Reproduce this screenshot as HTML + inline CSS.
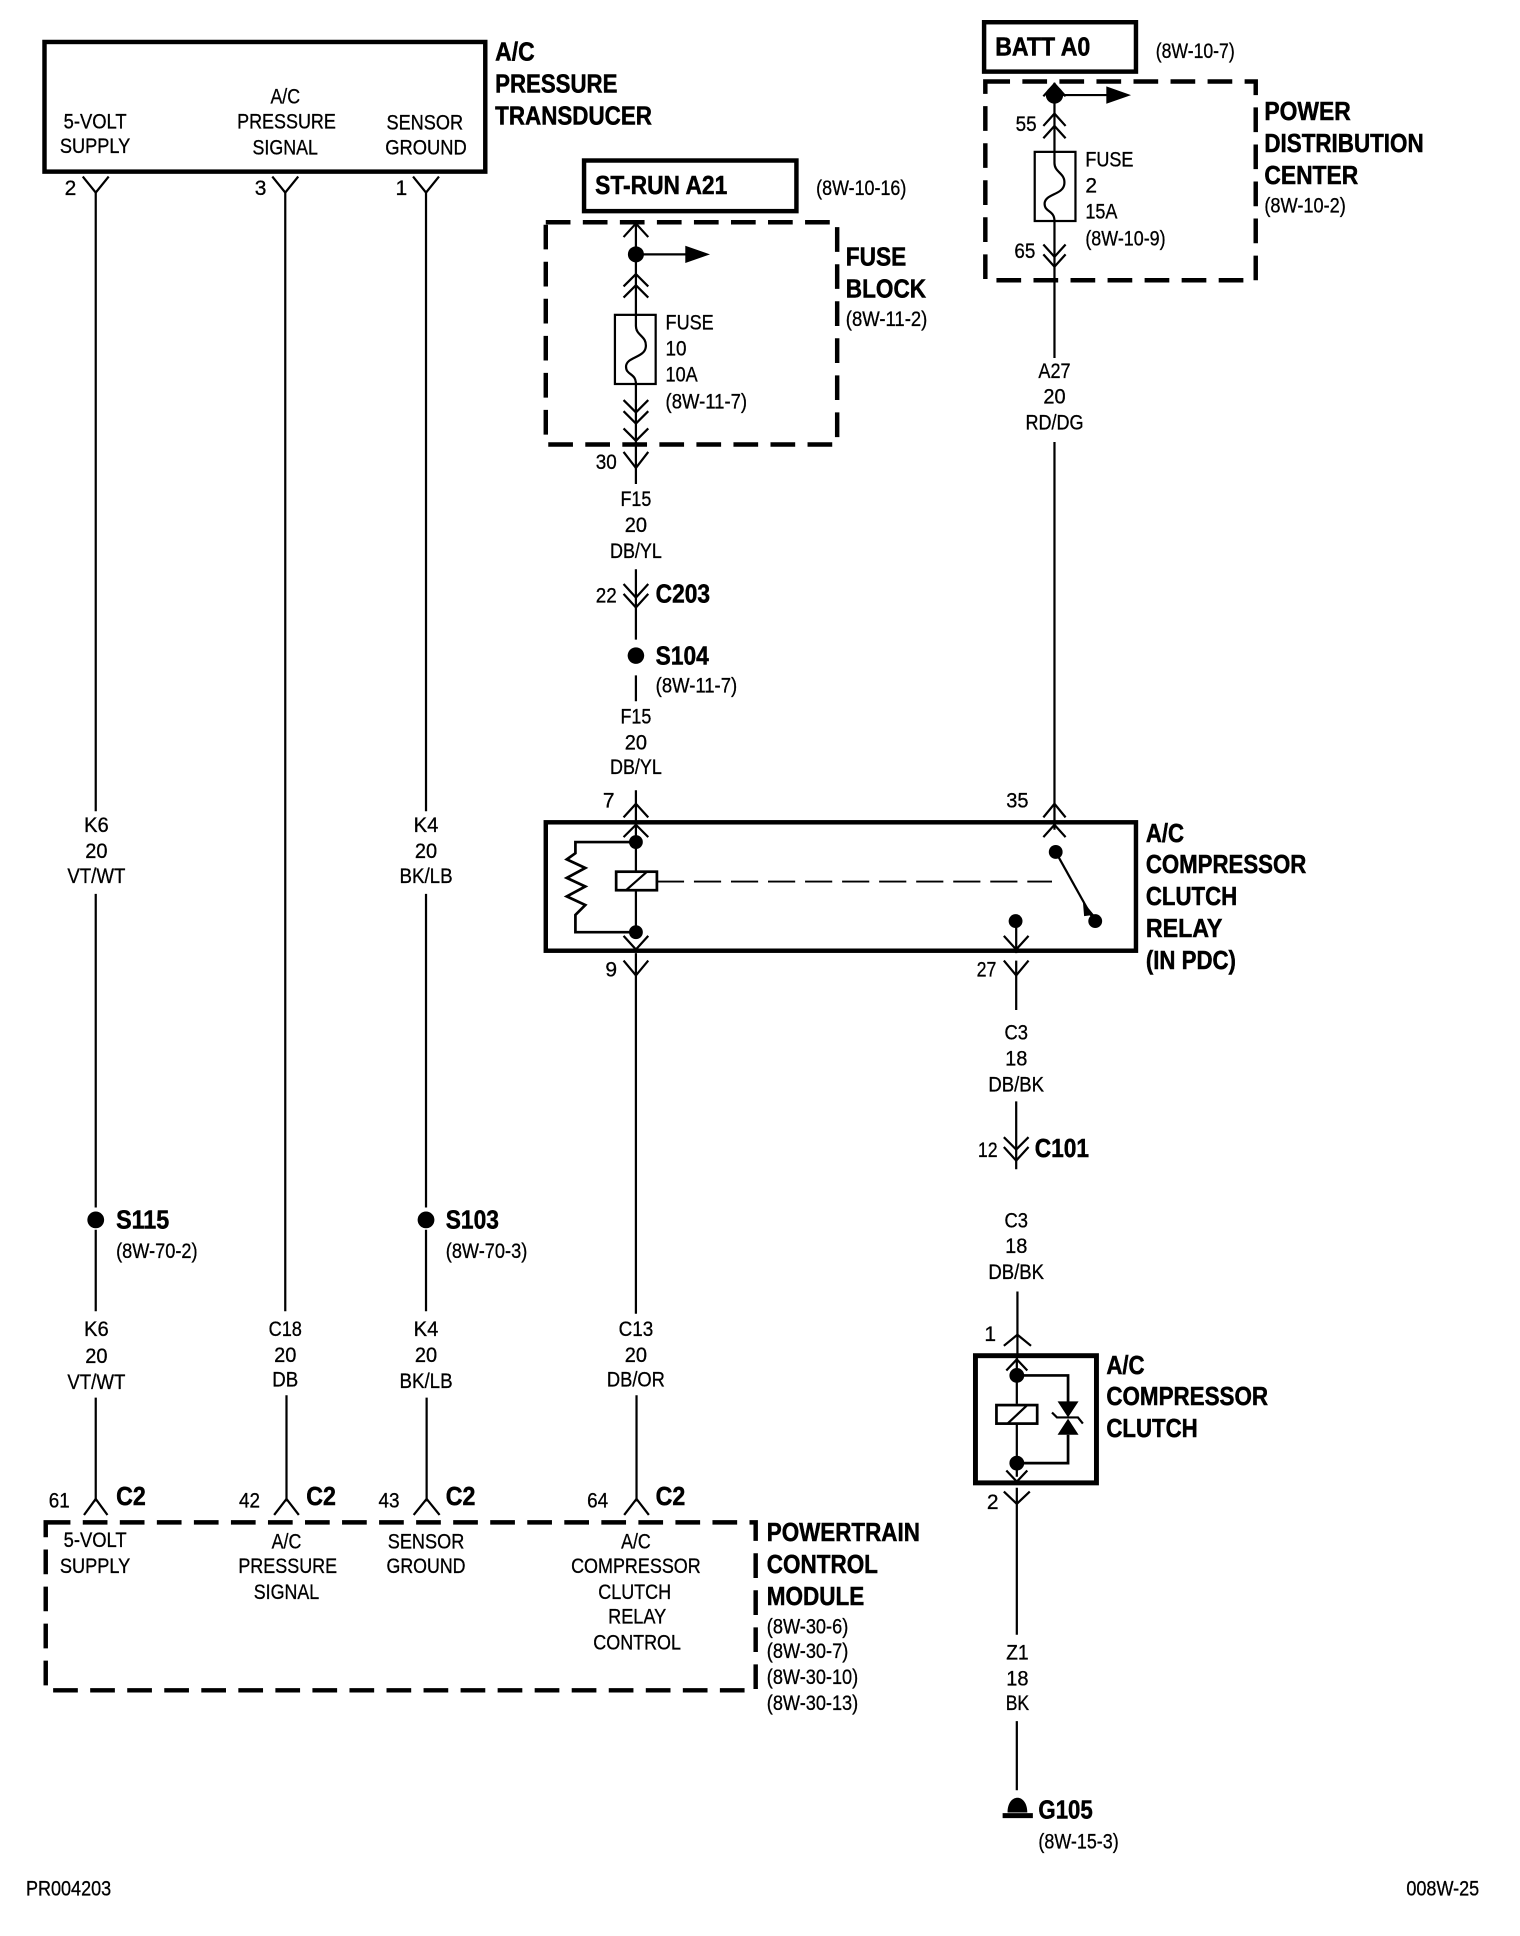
<!DOCTYPE html>
<html><head><meta charset="utf-8"><title>A/C Compressor Clutch Wiring</title>
<style>
html,body{margin:0;padding:0;background:#fff;width:1520px;height:1936px;overflow:hidden}
svg{display:block}
text{font-family:"Liberation Sans",sans-serif;fill:#000;stroke:#000;stroke-width:.25}
.r{font-size:17px}
.b{font-size:21px;font-weight:bold;stroke-width:.4}
.m{text-anchor:middle}
.w{fill:none;stroke:#000;stroke-width:1.8}
.t{fill:none;stroke:#000;stroke-width:3.6}
.d{fill:none;stroke:#000;stroke-width:3.6;stroke-dasharray:20 10}
.k{fill:#000;stroke:none}
</style></head><body>
<svg xmlns="http://www.w3.org/2000/svg" width="1520" height="1936" viewBox="0 0 1231 1568">
<!-- boxes -->
<rect class="t" x="36" y="34" width="357" height="105"/>
<rect class="t" x="473" y="130" width="172" height="41"/>
<rect class="t" x="797" y="18" width="123" height="40"/>
<rect class="d" x="442" y="180" width="236" height="180"/>
<rect class="d" x="798" y="66" width="219" height="161"/>
<rect class="t" x="442" y="666" width="478" height="104"/>
<rect class="t" x="790" y="1098" width="98" height="103" style="stroke-width:4"/>
<rect class="d" x="37" y="1233" width="575" height="136"/>

<!-- wires -->
<path class="w" d="M77.500 155V657M77.500 724V978M77.500 996V1062M77.500 1132V1216
M231 155V1062M232 1130V1216
M345 155V657M345 724V978M345 996V1062M345.500 1132V1216
M515 180V262M515 304V392M515 461V518M515 547V568M515 640V760
M515 772V1064M515.500 1130V1216
M854 67V123M854 179V290M854 358V672
M823 742V772M823 778V818M823 892V947M824 1046V1100M823.500 1100V1137M823.500 1153V1196M823.500 1205V1324M823.500 1394V1450
"/>
<!-- connector Ys (down) -->
<path class="w" d="M67 143L77.500 156L88 143M220.500 143L231 156L241.500 143M334.500 143L345 156L355.500 143
M505 366L515 379L525 366M505 778L515 790L525 778M813 778L823 790L833 778M813 1208L823.500 1218L834 1208"/>
<!-- connector inverted Ys -->
<path class="w" d="M68 1227L77.500 1214L87 1227M222 1227L232 1214L242 1227M335 1227L345.500 1214L356 1227M505.500 1227L515.500 1214L525.500 1227
M505 662L515 651L525 662M845 662L854 651L863 662M813 1090L824 1081L835 1090"/>
<!-- chevrons inside components -->
<path class="w" d="M505 192L515 181L525 192M505 232L515 222L525 232M505 241L515 231L525 241
M505 324L515 334L525 324M505 333L515 343L525 333M505 347L515 357L525 347
M505 473L515 484L525 473M505 481L515 492L525 481
M505 678L515 668L525 678M845 678L854 668L863 678M505 758L515 769L525 758M813 758L823 769L833 758
M845 78L854 68L863 78M845 102L854 92L863 102M845 112L854 102L863 112M845 198L854 208L863 198M845 206L854 216L863 206
M813 921L823 931L833 921M813 929L823 940L833 929
M815 1110L823.500 1101L832 1110M815 1191L823.500 1200L832 1191"/>
<!-- branch arrows and dots -->
<path class="w" d="M515 206H556M854 77H897"/>
<path class="k" d="M555 199L575 206L555 213ZM896 70L916 77L896 84Z"/>
<circle class="k" cx="515" cy="206" r="6.500"/>
<circle class="k" cx="854" cy="77" r="7"/>
<circle class="k" cx="77.500" cy="988" r="6.800"/>
<circle class="k" cx="345" cy="988" r="6.800"/>
<circle class="k" cx="515" cy="531" r="6.700"/>
<!-- fuses -->
<rect x="498" y="255" width="33" height="56" fill="#fff" stroke="#000" stroke-width="1.800"/>
<rect x="838" y="123" width="33" height="56" fill="#fff" stroke="#000" stroke-width="1.800"/>
<path class="w" d="M515 255V264C515 272 524 272 523 281C522 290 507 289 507 297C507 304 515 302 515 311"/>
<path class="w" d="M854 123V132C854 140 863 140 862 149C861 158 846 157 846 165C846 172 854 170 854 179"/>
<!-- relay internals -->
<circle class="k" cx="515" cy="682" r="5.600"/>
<circle class="k" cx="515" cy="755" r="5.600"/>
<path class="w" style="stroke-width:2.200" d="M515 682H466V691L459 696L474 703L459 711L474 718L459 726L474 733L466 741V755H515"/>
<rect x="499" y="706" width="33" height="15" fill="#fff" stroke="#000" stroke-width="2.200"/>
<path class="w" d="M507 721L524 706"/>
<path class="w" style="stroke-width:1.500" d="M532 714H852" stroke-dasharray="22 8"/>
<circle class="k" cx="855" cy="690" r="5.600"/>
<circle class="k" cx="887" cy="746" r="5.600"/>
<circle class="k" cx="822.500" cy="746" r="5.600"/>
<path class="w" d="M855 690L884 742"/>
<path class="k" d="M877 730L886 741L878 742Z"/>
<!-- clutch internals -->
<circle class="k" cx="823.500" cy="1114" r="6"/>
<circle class="k" cx="823.500" cy="1185" r="6"/>
<path class="w" style="stroke-width:2.200" d="M823.500 1114H865V1136M865 1162V1185H823.500"/>
<rect x="807" y="1138" width="33" height="15" fill="#fff" stroke="#000" stroke-width="2.200"/>
<path class="w" d="M816 1153L832 1138"/>
<path class="k" d="M856.500 1135H873.500L865 1148ZM856.500 1162H873.500L865 1149Z"/>
<path class="w" d="M852 1144L856 1148H873L877 1153"/>
<!-- ground -->
<path class="k" d="M816 1468C816 1452 832 1452 832 1468ZM812 1468.500H836.500V1472.500H812Z"/>

<!-- transducer text -->
<text class="b" x="401" y="49" textLength="32" lengthAdjust="spacingAndGlyphs">A/C</text>
<text class="b" x="401" y="75" textLength="99" lengthAdjust="spacingAndGlyphs">PRESSURE</text>
<text class="b" x="401" y="101" textLength="127" lengthAdjust="spacingAndGlyphs">TRANSDUCER</text>
<text class="r m" x="77" y="104" textLength="51" lengthAdjust="spacingAndGlyphs">5-VOLT</text>
<text class="r m" x="77" y="124" textLength="57" lengthAdjust="spacingAndGlyphs">SUPPLY</text>
<text class="r m" x="231" y="84" textLength="24" lengthAdjust="spacingAndGlyphs">A/C</text>
<text class="r m" x="232" y="104" textLength="80" lengthAdjust="spacingAndGlyphs">PRESSURE</text>
<text class="r m" x="231" y="125" textLength="53" lengthAdjust="spacingAndGlyphs">SIGNAL</text>
<text class="r m" x="344" y="105" textLength="62" lengthAdjust="spacingAndGlyphs">SENSOR</text>
<text class="r m" x="345" y="125" textLength="66" lengthAdjust="spacingAndGlyphs">GROUND</text>
<text class="r m" x="57" y="158">2</text><text class="r m" x="211" y="158">3</text><text class="r m" x="325" y="158">1</text>

<!-- left wire labels -->
<text class="r m" x="78" y="674" textLength="20" lengthAdjust="spacingAndGlyphs">K6</text>
<text class="r m" x="78" y="695" textLength="18" lengthAdjust="spacingAndGlyphs">20</text>
<text class="r m" x="78" y="715" textLength="47" lengthAdjust="spacingAndGlyphs">VT/WT</text>
<text class="r m" x="345" y="674" textLength="20" lengthAdjust="spacingAndGlyphs">K4</text>
<text class="r m" x="345" y="695" textLength="18" lengthAdjust="spacingAndGlyphs">20</text>
<text class="r m" x="345" y="715" textLength="43" lengthAdjust="spacingAndGlyphs">BK/LB</text>
<text class="b" x="94" y="995" textLength="43" lengthAdjust="spacingAndGlyphs">S115</text>
<text class="r" x="94" y="1019" textLength="66" lengthAdjust="spacingAndGlyphs">(8W-70-2)</text>
<text class="b" x="361" y="995" textLength="43" lengthAdjust="spacingAndGlyphs">S103</text>
<text class="r" x="361" y="1019" textLength="66" lengthAdjust="spacingAndGlyphs">(8W-70-3)</text>
<text class="r m" x="78" y="1082" textLength="20" lengthAdjust="spacingAndGlyphs">K6</text>
<text class="r m" x="78" y="1104" textLength="18" lengthAdjust="spacingAndGlyphs">20</text>
<text class="r m" x="78" y="1125" textLength="47" lengthAdjust="spacingAndGlyphs">VT/WT</text>
<text class="r m" x="231" y="1082" textLength="27" lengthAdjust="spacingAndGlyphs">C18</text>
<text class="r m" x="231" y="1103" textLength="18" lengthAdjust="spacingAndGlyphs">20</text>
<text class="r m" x="231" y="1123" textLength="21" lengthAdjust="spacingAndGlyphs">DB</text>
<text class="r m" x="345" y="1082" textLength="20" lengthAdjust="spacingAndGlyphs">K4</text>
<text class="r m" x="345" y="1103" textLength="18" lengthAdjust="spacingAndGlyphs">20</text>
<text class="r m" x="345" y="1124" textLength="43" lengthAdjust="spacingAndGlyphs">BK/LB</text>
<text class="r m" x="515" y="1082" textLength="28" lengthAdjust="spacingAndGlyphs">C13</text>
<text class="r m" x="515" y="1103" textLength="18" lengthAdjust="spacingAndGlyphs">20</text>
<text class="r m" x="515" y="1123" textLength="47" lengthAdjust="spacingAndGlyphs">DB/OR</text>

<!-- PCM -->
<text class="r m" x="48" y="1221" textLength="17" lengthAdjust="spacingAndGlyphs">61</text>
<text class="b" x="94" y="1219" textLength="24" lengthAdjust="spacingAndGlyphs">C2</text>
<text class="r m" x="202" y="1221" textLength="17" lengthAdjust="spacingAndGlyphs">42</text>
<text class="b" x="248" y="1219" textLength="24" lengthAdjust="spacingAndGlyphs">C2</text>
<text class="r m" x="315" y="1221" textLength="17" lengthAdjust="spacingAndGlyphs">43</text>
<text class="b" x="361" y="1219" textLength="24" lengthAdjust="spacingAndGlyphs">C2</text>
<text class="r m" x="484" y="1221" textLength="17" lengthAdjust="spacingAndGlyphs">64</text>
<text class="b" x="531" y="1219" textLength="24" lengthAdjust="spacingAndGlyphs">C2</text>
<text class="r m" x="77" y="1253" textLength="51" lengthAdjust="spacingAndGlyphs">5-VOLT</text>
<text class="r m" x="77" y="1274" textLength="57" lengthAdjust="spacingAndGlyphs">SUPPLY</text>
<text class="r m" x="232" y="1254" textLength="24" lengthAdjust="spacingAndGlyphs">A/C</text>
<text class="r m" x="233" y="1274" textLength="80" lengthAdjust="spacingAndGlyphs">PRESSURE</text>
<text class="r m" x="232" y="1295" textLength="53" lengthAdjust="spacingAndGlyphs">SIGNAL</text>
<text class="r m" x="345" y="1254" textLength="62" lengthAdjust="spacingAndGlyphs">SENSOR</text>
<text class="r m" x="345" y="1274" textLength="64" lengthAdjust="spacingAndGlyphs">GROUND</text>
<text class="r m" x="515" y="1254" textLength="24" lengthAdjust="spacingAndGlyphs">A/C</text>
<text class="r m" x="515" y="1274" textLength="105" lengthAdjust="spacingAndGlyphs">COMPRESSOR</text>
<text class="r m" x="514" y="1295" textLength="59" lengthAdjust="spacingAndGlyphs">CLUTCH</text>
<text class="r m" x="516" y="1315" textLength="47" lengthAdjust="spacingAndGlyphs">RELAY</text>
<text class="r m" x="516" y="1336" textLength="71" lengthAdjust="spacingAndGlyphs">CONTROL</text>
<text class="b" x="621" y="1248" textLength="124" lengthAdjust="spacingAndGlyphs">POWERTRAIN</text>
<text class="b" x="621" y="1274" textLength="90" lengthAdjust="spacingAndGlyphs">CONTROL</text>
<text class="b" x="621" y="1300" textLength="79" lengthAdjust="spacingAndGlyphs">MODULE</text>
<text class="r" x="621" y="1323" textLength="66" lengthAdjust="spacingAndGlyphs">(8W-30-6)</text>
<text class="r" x="621" y="1343" textLength="66" lengthAdjust="spacingAndGlyphs">(8W-30-7)</text>
<text class="r" x="621" y="1364" textLength="74" lengthAdjust="spacingAndGlyphs">(8W-30-10)</text>
<text class="r" x="621" y="1385" textLength="74" lengthAdjust="spacingAndGlyphs">(8W-30-13)</text>

<!-- fuse block -->
<text class="b" x="482" y="157" textLength="107" lengthAdjust="spacingAndGlyphs">ST-RUN A21</text>
<text class="r" x="661" y="158" textLength="73" lengthAdjust="spacingAndGlyphs">(8W-10-16)</text>
<text class="b" x="685" y="215" textLength="49" lengthAdjust="spacingAndGlyphs">FUSE</text>
<text class="b" x="685" y="241" textLength="65" lengthAdjust="spacingAndGlyphs">BLOCK</text>
<text class="r" x="685" y="264" textLength="66" lengthAdjust="spacingAndGlyphs">(8W-11-2)</text>
<text class="r" x="539" y="267" textLength="39" lengthAdjust="spacingAndGlyphs">FUSE</text>
<text class="r" x="539" y="288" textLength="17" lengthAdjust="spacingAndGlyphs">10</text>
<text class="r" x="539" y="309" textLength="26" lengthAdjust="spacingAndGlyphs">10A</text>
<text class="r" x="539" y="331" textLength="66" lengthAdjust="spacingAndGlyphs">(8W-11-7)</text>
<text class="r m" x="491" y="380" textLength="17" lengthAdjust="spacingAndGlyphs">30</text>
<text class="r m" x="515" y="410" textLength="25" lengthAdjust="spacingAndGlyphs">F15</text>
<text class="r m" x="515" y="431" textLength="18" lengthAdjust="spacingAndGlyphs">20</text>
<text class="r m" x="515" y="452" textLength="42" lengthAdjust="spacingAndGlyphs">DB/YL</text>
<text class="r m" x="491" y="488" textLength="17" lengthAdjust="spacingAndGlyphs">22</text>
<text class="b" x="531" y="488" textLength="44" lengthAdjust="spacingAndGlyphs">C203</text>
<text class="b" x="531" y="538" textLength="43" lengthAdjust="spacingAndGlyphs">S104</text>
<text class="r" x="531" y="561" textLength="66" lengthAdjust="spacingAndGlyphs">(8W-11-7)</text>
<text class="r m" x="515" y="586" textLength="25" lengthAdjust="spacingAndGlyphs">F15</text>
<text class="r m" x="515" y="607" textLength="18" lengthAdjust="spacingAndGlyphs">20</text>
<text class="r m" x="515" y="627" textLength="42" lengthAdjust="spacingAndGlyphs">DB/YL</text>
<text class="r m" x="493" y="654">7</text>
<text class="r m" x="495" y="791">9</text>
<text class="r m" x="799" y="791" textLength="16" lengthAdjust="spacingAndGlyphs">27</text>
<text class="r m" x="824" y="654" textLength="18" lengthAdjust="spacingAndGlyphs">35</text>

<!-- relay text -->
<text class="b" x="928" y="682" textLength="31" lengthAdjust="spacingAndGlyphs">A/C</text>
<text class="b" x="928" y="707" textLength="130" lengthAdjust="spacingAndGlyphs">COMPRESSOR</text>
<text class="b" x="928" y="733" textLength="74" lengthAdjust="spacingAndGlyphs">CLUTCH</text>
<text class="b" x="928" y="759" textLength="62" lengthAdjust="spacingAndGlyphs">RELAY</text>
<text class="b" x="928" y="785" textLength="73" lengthAdjust="spacingAndGlyphs">(IN PDC)</text>

<!-- PDC -->
<text class="b" x="806" y="45" textLength="77" lengthAdjust="spacingAndGlyphs">BATT A0</text>
<text class="r" x="936" y="47" textLength="64" lengthAdjust="spacingAndGlyphs">(8W-10-7)</text>
<text class="b" x="1024" y="97" textLength="70" lengthAdjust="spacingAndGlyphs">POWER</text>
<text class="b" x="1024" y="123" textLength="129" lengthAdjust="spacingAndGlyphs">DISTRIBUTION</text>
<text class="b" x="1024" y="149" textLength="76" lengthAdjust="spacingAndGlyphs">CENTER</text>
<text class="r" x="1024" y="172" textLength="66" lengthAdjust="spacingAndGlyphs">(8W-10-2)</text>
<text class="r" x="879" y="135" textLength="39" lengthAdjust="spacingAndGlyphs">FUSE</text>
<text class="r" x="879" y="156">2</text>
<text class="r" x="879" y="177" textLength="26" lengthAdjust="spacingAndGlyphs">15A</text>
<text class="r" x="879" y="199" textLength="65" lengthAdjust="spacingAndGlyphs">(8W-10-9)</text>
<text class="r m" x="831" y="106" textLength="17" lengthAdjust="spacingAndGlyphs">55</text>
<text class="r m" x="830" y="209" textLength="17" lengthAdjust="spacingAndGlyphs">65</text>
<text class="r m" x="854" y="306" textLength="26" lengthAdjust="spacingAndGlyphs">A27</text>
<text class="r m" x="854" y="327" textLength="18" lengthAdjust="spacingAndGlyphs">20</text>
<text class="r m" x="854" y="348" textLength="47" lengthAdjust="spacingAndGlyphs">RD/DG</text>

<!-- right lower -->
<text class="r m" x="823" y="842" textLength="19" lengthAdjust="spacingAndGlyphs">C3</text>
<text class="r m" x="823" y="863" textLength="18" lengthAdjust="spacingAndGlyphs">18</text>
<text class="r m" x="823" y="884" textLength="45" lengthAdjust="spacingAndGlyphs">DB/BK</text>
<text class="r m" x="800" y="937" textLength="16" lengthAdjust="spacingAndGlyphs">12</text>
<text class="b" x="838" y="937" textLength="44" lengthAdjust="spacingAndGlyphs">C101</text>
<text class="r m" x="823" y="994" textLength="19" lengthAdjust="spacingAndGlyphs">C3</text>
<text class="r m" x="823" y="1015" textLength="18" lengthAdjust="spacingAndGlyphs">18</text>
<text class="r m" x="823" y="1036" textLength="45" lengthAdjust="spacingAndGlyphs">DB/BK</text>
<text class="r m" x="802" y="1086">1</text>
<text class="b" x="896" y="1113" textLength="31" lengthAdjust="spacingAndGlyphs">A/C</text>
<text class="b" x="896" y="1138" textLength="131" lengthAdjust="spacingAndGlyphs">COMPRESSOR</text>
<text class="b" x="896" y="1164" textLength="74" lengthAdjust="spacingAndGlyphs">CLUTCH</text>
<text class="r m" x="804" y="1222">2</text>
<text class="r m" x="824" y="1344" textLength="18" lengthAdjust="spacingAndGlyphs">Z1</text>
<text class="r m" x="824" y="1365" textLength="18" lengthAdjust="spacingAndGlyphs">18</text>
<text class="r m" x="824" y="1385" textLength="19" lengthAdjust="spacingAndGlyphs">BK</text>
<text class="b" x="841" y="1473" textLength="44" lengthAdjust="spacingAndGlyphs">G105</text>
<text class="r" x="841" y="1497" textLength="65" lengthAdjust="spacingAndGlyphs">(8W-15-3)</text>
<text class="r" x="1139" y="1535" textLength="59" lengthAdjust="spacingAndGlyphs">008W-25</text>
<text class="r" x="21" y="1535" textLength="69" lengthAdjust="spacingAndGlyphs">PR004203</text>
</svg>
</body></html>
